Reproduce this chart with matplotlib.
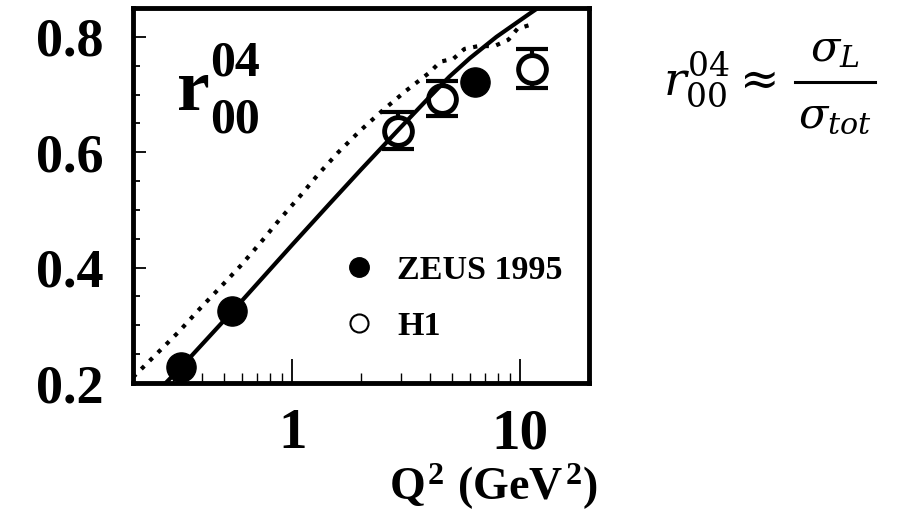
import numpy as np
import matplotlib
matplotlib.use('Agg')
import matplotlib.pyplot as plt
from matplotlib.lines import Line2D
from matplotlib.ticker import FixedLocator, NullFormatter, FixedFormatter, LogLocator

plt.rcParams['font.family'] = ['Liberation Serif', 'DejaVu Serif']
plt.rcParams['mathtext.fontset'] = 'custom'
plt.rcParams['mathtext.rm'] = 'Liberation Serif:bold'
plt.rcParams['mathtext.bf'] = 'Liberation Serif:bold'
plt.rcParams['mathtext.it'] = 'Liberation Serif:bold'

# ---------------- data ----------------
zeus_q2 = [0.326, 0.545, 6.35]
zeus_r = [0.228, 0.324, 0.721]

h1_q2 = [2.90, 4.55, 11.2]
h1_r = [0.637, 0.693, 0.745]
h1_err = [0.032, 0.030, 0.034]

solid_q2 = [0.26, 0.326, 0.545, 1.0, 1.45, 2.0, 2.95, 4.0, 4.88, 6.0,
            7.85, 10.95, 13.0]
solid_r = [0.188, 0.228, 0.324, 0.440, 0.510, 0.570, 0.641, 0.696, 0.731,
           0.763, 0.800, 0.840, 0.860]

dot_q2 = [0.200, 0.256, 0.316, 0.391, 0.483, 0.592, 0.724, 0.877, 1.07,
          1.30, 1.59, 1.99, 2.48, 3.16, 3.99, 4.46, 5.08, 5.68, 6.54, 7.69,
          8.86, 9.70, 11.3]
dot_r = [0.210, 0.252, 0.288, 0.328, 0.366, 0.403, 0.443, 0.483, 0.522,
         0.562, 0.600, 0.638, 0.672, 0.707, 0.738, 0.757, 0.762, 0.779,
         0.784, 0.784, 0.795, 0.814, 0.822]

yticks = [0.2, 0.4, 0.6, 0.8]
ytick_labels = ['0.2', '0.4', '0.6', '0.8']
xticks = [1, 10]
xtick_labels = ['1', '10']
legend_labels = ['ZEUS 1995', 'H1']

# ---------------- figure ----------------
fig = plt.figure(figsize=(8.97, 5.13), dpi=100)
ax = fig.add_axes([0.1483, 0.2534, 0.5084, 0.7310])

ax.set_xscale('log')
ax.set_xlim(0.2, 20)
ax.set_ylim(0.2, 0.85)

# H1 error bars (below markers)
ax.errorbar(h1_q2, h1_r, yerr=h1_err, fmt='none', ecolor='black',
            elinewidth=3, capsize=11.5, capthick=3, zorder=2)
# H1 open circles (white interior hides error bar)
ax.plot(h1_q2, h1_r, 'o', ms=20, mfc='white', mec='black', mew=3.5,
        ls='none', zorder=3)

# model curves
ax.plot(solid_q2, solid_r, '-', color='black', lw=3.0, zorder=4)
ax.plot(dot_q2, dot_r, color='black', lw=3.0, ls=(0, (1, 1.8)), zorder=4)

# ZEUS filled circles
ax.plot(zeus_q2, zeus_r, 'o', ms=21, color='black', ls='none', zorder=5)

# spines
for s in ax.spines.values():
    s.set_linewidth(3.5)

# ticks
ax.yaxis.set_major_locator(FixedLocator(yticks))
ax.yaxis.set_major_formatter(FixedFormatter(ytick_labels))
ax.yaxis.set_minor_locator(FixedLocator(np.arange(0.25, 0.85, 0.05)))
ax.xaxis.set_major_locator(FixedLocator(xticks))
ax.xaxis.set_major_formatter(FixedFormatter(xtick_labels))
ax.xaxis.set_minor_locator(LogLocator(base=10, subs=np.arange(2, 10)))
ax.xaxis.set_minor_formatter(NullFormatter())

ax.tick_params(axis='y', which='major', direction='in', length=9.5, width=1.3,
               pad=21, labelsize=39, left=True, right=False)
ax.tick_params(axis='y', which='minor', direction='in', length=5, width=1.3,
               left=True, right=False)
ax.tick_params(axis='x', which='major', direction='in', length=17, width=1.3,
               pad=18, labelsize=41, bottom=True, top=False)
ax.tick_params(axis='x', which='minor', direction='in', length=7, width=1.0,
               bottom=True, top=False)
for lab in ax.get_xticklabels() + ax.get_yticklabels():
    lab.set_fontweight('bold')

# axis label
ax.set_xlabel(r'$Q^2\ (GeV^2)$', fontsize=33)
ax.xaxis.set_label_coords(0.79, -0.313)
ax.xaxis.label.set_va('baseline')

# r_00^04 label inside plot
ax.text(0.0965, 0.728, 'r', fontsize=53, fontweight='bold',
        transform=ax.transAxes, ha='left', va='baseline')
ax.text(0.169, 0.821, '04', fontsize=36, fontweight='bold',
        transform=ax.transAxes, ha='left', va='baseline')
ax.text(0.169, 0.667, '00', fontsize=36, fontweight='bold',
        transform=ax.transAxes, ha='left', va='baseline')

# legend
h_zeus = Line2D([], [], ls='none', marker='o', ms=14, color='black')
h_h1 = Line2D([], [], ls='none', marker='o', ms=13, mfc='white',
              mec='black', mew=1.5)
ax.legend([h_zeus, h_h1], legend_labels, loc='center left',
          bbox_to_anchor=(0.458, 0.225), frameon=False,
          prop={'size': 24.5, 'weight': 'bold'},
          handlelength=1.0, handletextpad=0.62, labelspacing=0.72,
          borderpad=0, borderaxespad=0)

# formula on the right: r_00^04 ≈ σ_L / σ_tot
W, H = 897.0, 513.0
fig.text(663 / W, 1 - 95 / H, r'$r_{00}^{04} \approx$',
         fontsize=34, math_fontfamily='dejavuserif', ha='left',
         va='baseline')
fig.text(835 / W, 1 - 61 / H, r'$\sigma_L$', fontsize=31,
         math_fontfamily='dejavuserif', ha='center', va='baseline')
fig.text(835 / W, 1 - 127 / H, r'$\sigma_{tot}$', fontsize=31,
         math_fontfamily='dejavuserif', ha='center', va='baseline')
fig.add_artist(Line2D([795 / W, 875 / W], [1 - 81.5 / H, 1 - 81.5 / H],
                      transform=fig.transFigure, color='black', lw=2.2))

fig.savefig('out.png', dpi=100)
